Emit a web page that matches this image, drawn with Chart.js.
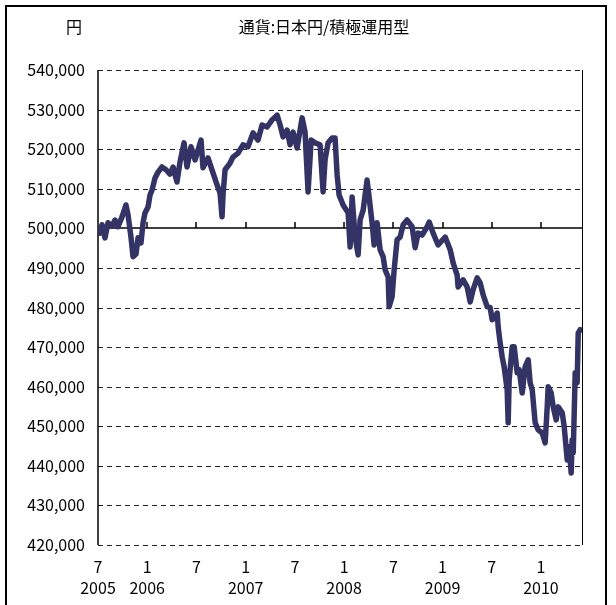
<!DOCTYPE html>
<html>
<head>
<meta charset="utf-8">
<script src="https://cdn.jsdelivr.net/npm/chart.js@4/dist/chart.umd.min.js"></script>
<style>
  html, body { margin: 0; padding: 0; background: #fff; }
  body { width: 616px; height: 605px; position: relative; overflow: hidden; font-family: "Noto Sans CJK JP", sans-serif; }
  #frame { position: absolute; left: 5px; top: 5px; width: 602px; height: 640px; border: 2px solid #000; box-sizing: border-box; }
  #wrap { position: absolute; left: 0; top: 0; width: 616px; height: 605px; }
  .lbl { position: absolute; font-size: 16px; color: #000; line-height: 20px; white-space: nowrap; }
  #unit { left: 66px; top: 16px; }
  #title { left: 0; width: 648px; top: 16px; text-align: center; }
</style>
</head>
<body>
<div id="frame"></div>
<div id="wrap"><canvas id="chart" width="616" height="605"></canvas></div>
<div class="lbl" id="unit">円</div>
<div class="lbl" id="title">通貨:日本円/積極運用型</div>
<script>
// months since July 2005
const months = [0,0.24,0.49,0.85,1.22,1.71,2.07,2.44,2.93,3.41,
  3.66,4.02,4.27,4.63,4.88,5.24,5.49,5.73,6.10,6.34,
  6.59,6.95,7.32,7.80,8.29,8.78,9.15,9.63,10.0,10.49,
  10.85,11.34,11.83,12.56,12.80,13.41,14.02,14.51,14.88,15.12,
  15.24,15.49,16.10,16.46,17.07,17.68,18.29,18.90,19.51,20.0,
  20.61,21.22,21.83,22.20,22.56,23.05,23.41,23.78,24.27,24.88,
  25.24,25.61,25.98,26.46,27.07,27.44,27.68,28.05,28.54,28.90,
  29.15,29.39,29.88,30.49,30.73,30.98,31.34,31.71,31.95,32.32,
  32.80,33.05,33.41,33.66,34.02,34.39,34.76,35.0,35.37,35.49,
  35.85,36.10,36.46,36.83,37.20,37.68,38.29,38.66,39.02,39.51,
  40.12,40.37,40.85,41.46,42.32,42.93,43.29,43.78,43.90,44.51,
  45.0,45.37,45.73,46.22,46.59,46.95,47.44,47.80,48.05,48.41,
  48.66,48.78,49.02,49.27,49.51,49.88,50.0,50.12,50.49,50.73,
  51.10,51.34,51.71,52.07,52.44,52.68,52.93,53.29,53.66,54.15,
  54.51,54.76,54.88,55.24,55.49,55.85,56.10,56.59,56.83,57.20,
  57.44,57.68,57.80,57.93,58.17,58.41,58.54,58.78];

const values = [499600,498800,500900,497600,501400,500600,502100,500400,502900,505900,
  503400,497800,492800,493500,497600,496300,501400,503900,505400,508400,
  509700,512700,514200,515500,514800,513700,515500,511700,516800,521600,
  515500,520600,517300,522300,515300,517800,514000,511000,508900,502900,
  508400,514800,516500,518000,519000,521100,520600,524100,522300,526100,
  525600,527400,528600,526100,523100,524800,521100,524300,520300,527900,
  524300,509200,522300,521600,521100,509200,517300,521600,522800,522800,
  513500,508400,505900,503900,495300,507900,497800,493300,502100,504600,
  512200,507900,501400,495800,501400,494600,492800,489500,487700,480200,
  482700,489500,497100,497800,500900,502100,500400,495100,498800,498300,
  500400,501600,498800,495800,497800,494600,491300,488200,485200,487000,
  485200,481400,484500,487500,486200,483200,480200,480000,476900,477600,
  478600,475100,471100,467500,465000,459200,450900,461700,470100,470100,
  463500,464300,458400,465000,466800,461000,459200,450900,449100,448300,
  445800,454900,460000,458400,454900,451600,454900,453400,449900,441500,
  444800,438200,446600,443300,463500,461000,473600,474400];

const tickMonths = [0,6,12,18,24,30,36,42,48,54];
const tickLabels = ['7','1','7','1','7','1','7','1','7','1'];
const yearLabels = ['2005','2006','','2007','','2008','','2009','','2010'];
const baseValue = 500000;

const points = months.map((m, i) => ({x: m, y: values[i]}));

const framePlugin = {
    id: 'frame',
    beforeDatasetsDraw(chart) {
        const ctx = chart.ctx;
        const area = chart.chartArea;
        const xs = chart.scales.x;
        const ys = chart.scales.y;
        ctx.save();
        // dashed grid
        ctx.strokeStyle = '#222';
        ctx.lineWidth = 1;
        ctx.setLineDash([5, 4]);
        ys.ticks.forEach(t => {
            if (t.value === baseValue) return;
            const y = Math.round(ys.getPixelForValue(t.value)) + 0.5;
            ctx.beginPath();
            ctx.moveTo(area.left, y);
            ctx.lineTo(area.right, y);
            ctx.stroke();
        });
        ctx.setLineDash([]);
        // base line at 500,000 with ticks
        ctx.strokeStyle = '#000';
        ctx.lineWidth = 1.5;
        const by = Math.round(ys.getPixelForValue(baseValue));
        ctx.beginPath();
        ctx.moveTo(area.left, by);
        ctx.lineTo(area.right, by);
        tickMonths.forEach(m => {
            if (m === 0) return;
            const x = Math.round(xs.getPixelForValue(m));
            ctx.moveTo(x, by);
            ctx.lineTo(x, by - 6);
        });
        ctx.stroke();
        // left axis and right border
        ctx.beginPath();
        ctx.moveTo(area.left, area.top);
        ctx.lineTo(area.left, area.bottom);
        ctx.stroke();
        ctx.lineWidth = 1;
        ctx.beginPath();
        ctx.moveTo(area.right + 0.5, area.top);
        ctx.lineTo(area.right + 0.5, area.bottom);
        ctx.stroke();
        ctx.restore();
    }
};

const tickFont = { family: '"Noto Sans CJK JP", sans-serif', size: 16, lineHeight: 1.35 };

new Chart(document.getElementById('chart').getContext('2d'), {
    type: 'line',
    data: {
        datasets: [{
            data: points,
            borderColor: '#333366',
            borderWidth: 5.5,
            pointRadius: 0,
            tension: 0,
            borderJoinStyle: 'round',
            borderCapStyle: 'round',
            fill: false
        }]
    },
    options: {
        responsive: false,
        animation: false,
        layout: { padding: { left: 0, top: 70, right: 34, bottom: 0 } },
        scales: {
            x: {
                type: 'linear',
                min: 0,
                max: 59,
                afterBuildTicks: axis => { axis.ticks = tickMonths.map(v => ({value: v})); },
                afterFit: axis => { axis.height = 60; },
                grid: { display: false, drawTicks: false },
                border: { display: false },
                ticks: {
                    autoSkip: false,
                    maxRotation: 0,
                    padding: 11,
                    color: '#000',
                    font: tickFont,
                    callback: function(value) {
                        const i = tickMonths.indexOf(value);
                        return i < 0 ? '' : [tickLabels[i], yearLabels[i]];
                    }
                }
            },
            y: {
                min: 420000,
                max: 540000,
                afterFit: axis => { axis.width = 98; },
                grid: { display: false, drawTicks: false },
                border: { display: false },
                ticks: {
                    stepSize: 10000,
                    padding: 13,
                    color: '#000',
                    font: { family: '"Noto Sans CJK JP", sans-serif', size: 16 },
                    callback: v => v.toLocaleString('en-US')
                }
            }
        },
        plugins: {
            legend: { display: false },
            tooltip: { enabled: false }
        }
    },
    plugins: [framePlugin]
});
</script>
</body>
</html>
